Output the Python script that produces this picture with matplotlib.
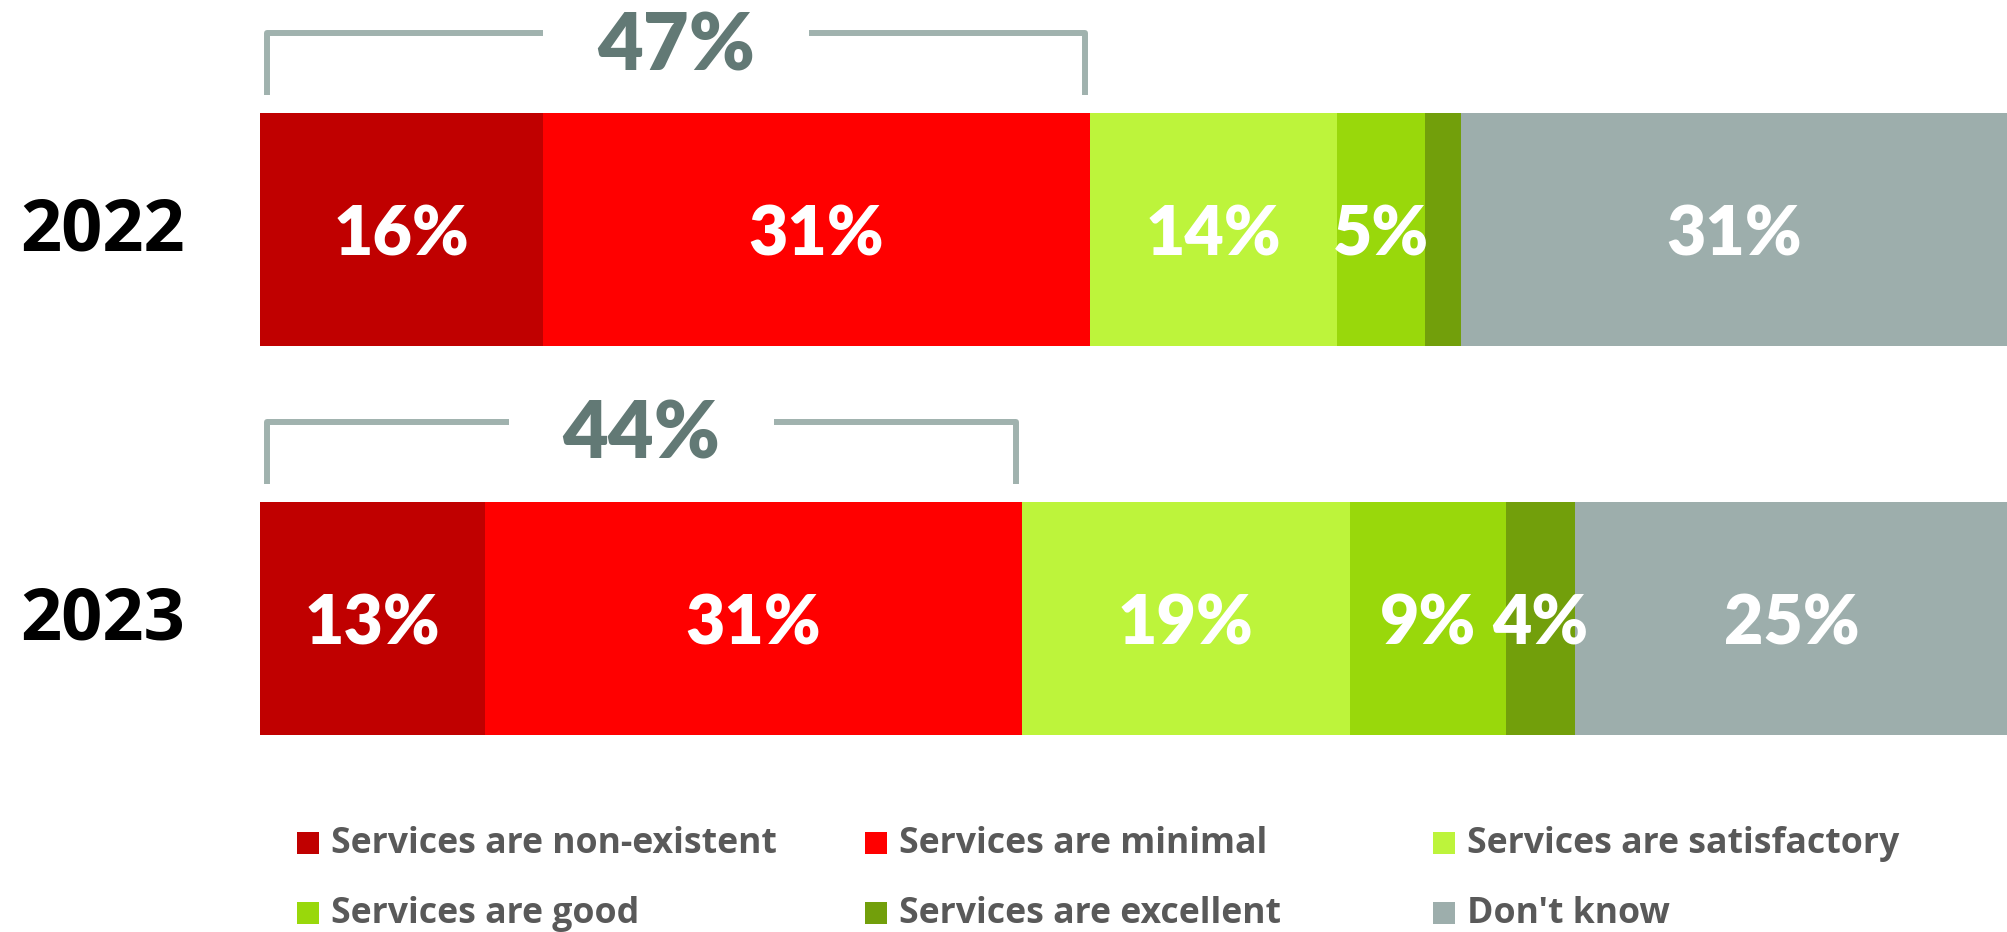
import numpy as np
import matplotlib
matplotlib.use('Agg')
import matplotlib.pyplot as plt

# values
years = ['2022', '2023']
categories = ['Services are non-existent', 'Services are minimal',
              'Services are satisfactory', 'Services are good',
              'Services are excellent', "Don't know"]
pct_2022 = [16, 31, 14, 5, 2, 31]
pct_2023 = [13, 31, 19, 9, 4, 25]

colors = ['#c00000', '#ff0000', '#bdf43b', '#99d80b', '#729f0b', '#9daeac']
bracket_color = '#a0b2ae'
total_color = '#627975'
legend_text = '#595959'

fig = plt.figure(figsize=(20.08, 9.32), dpi=100)
ax = fig.add_axes([260 / 2008, 0, 1748 / 2008, 1])
ax.set_xlim(0, 100)
ax.set_ylim(1.806, -0.590)
ax.axis('off')

data = np.array([pct_2022, pct_2023], dtype=float)
# bars are stretched to full width (rounded numbers don't add to 100)
shares = data / data.sum(axis=1, keepdims=True) * 100
ypos = np.arange(len(years))

# stacked bars + white labels
left = np.zeros(len(years))
for j, cat in enumerate(categories):
    ax.barh(ypos, shares[:, j], left=left, height=0.6, color=colors[j],
            edgecolor='none', label=cat)
    for i in range(len(years)):
        if data[i, j] >= 3:
            ax.text(left[i] + shares[i, j] / 2, ypos[i] + 0.066,
                    f'{data[i, j]:.0f}%', ha='center', va='baseline',
                    color='white', fontsize=49, fontweight='heavy', family='Lato')
    left += shares[:, j]

# year labels
for i, yr in enumerate(years):
    ax.text(-13.7, ypos[i] + 0.053, yr, ha='left', va='baseline',
            fontsize=52, fontweight='bold', family='Open Sans', color='black')

# bracket over non-existent + minimal
gap = 7.6
kw = dict(color=bracket_color, lw=4.3, solid_joinstyle='round',
          solid_capstyle='butt', clip_on=False)
for i in range(len(years)):
    x0 = 0.4
    x1 = shares[i, 0] + shares[i, 1] - 0.3
    xm = (x0 + x1) / 2
    top = ypos[i] - 0.505
    bot = ypos[i] - 0.345
    ax.plot([x0, x0, xm - gap], [bot, top, top], **kw)
    ax.plot([xm + gap, x1, x1], [top, top, bot], **kw)
    ax.text(xm, ypos[i] - 0.41, f'{data[i, 0] + data[i, 1]:.0f}%',
            ha='center', va='baseline', color=total_color,
            fontsize=57, fontweight='heavy', family='Lato')

# legend, 3 columns x 2 rows
for k, cat in enumerate(categories):
    row, col = divmod(k, 3)
    lx = 2.75 + col * 32.5
    ly = 1.603 + row * 0.18
    ax.plot(lx, ly - 0.027, marker='s', ms=15.5, mew=0, color=colors[k],
            clip_on=False)
    ax.text(lx + 1.3, ly, cat, ha='left', va='baseline', fontsize=25.7,
            fontweight='bold', family='Open Sans', color=legend_text)

fig.savefig('out.png', dpi=100)
